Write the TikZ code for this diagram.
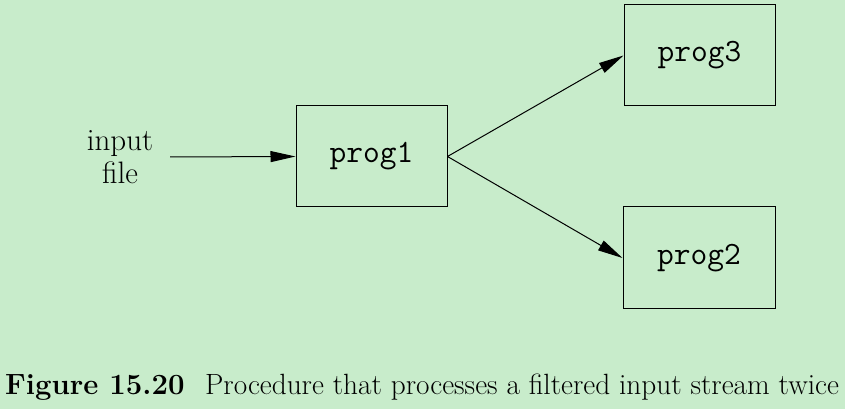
\documentclass[tikz,border=0pt]{standalone}
\usetikzlibrary{arrows.meta}
\definecolor{bg}{HTML}{C8ECCB}
\begin{document}
\begin{tikzpicture}[x=1pt,y=1pt,
  progbox/.style={draw, line width=1pt, minimum width=151pt, minimum height=101pt, inner sep=0pt, font=\fontsize{32.5}{36}\selectfont\ttfamily},
  conn/.style={line width=1pt, -{Triangle[length=25pt,width=11pt]}},
  lbl/.style={align=center, font=\fontsize{31}{33}\selectfont}]
\fill[bg] (0,0) rectangle (845,409);
\useasboundingbox (0,0) rectangle (845,409);
\node[progbox] (p1) at (371.5,252.5) {prog1};
\node[progbox] (p3) at (699.5,353.5) {prog3};
\node[progbox, minimum width=152pt, minimum height=102pt] (p2) at (699,151) {prog2};
\node[lbl] (in) at (120,252) {input\\file};
\coordinate (s) at (170,252);
\draw[conn] (s) -- (p1.west);
\draw[conn] (p1.east) -- (p3.west);
\draw[conn] (p1.east) -- (p2.west);
\node[anchor=base west, inner sep=0pt, font=\fontsize{29.3}{33}\selectfont] (cap) at (5,14) {\textbf{Figure 15.20}\hspace{0.7em}Procedure that processes a filtered input stream twice};
\end{tikzpicture}
\end{document}
